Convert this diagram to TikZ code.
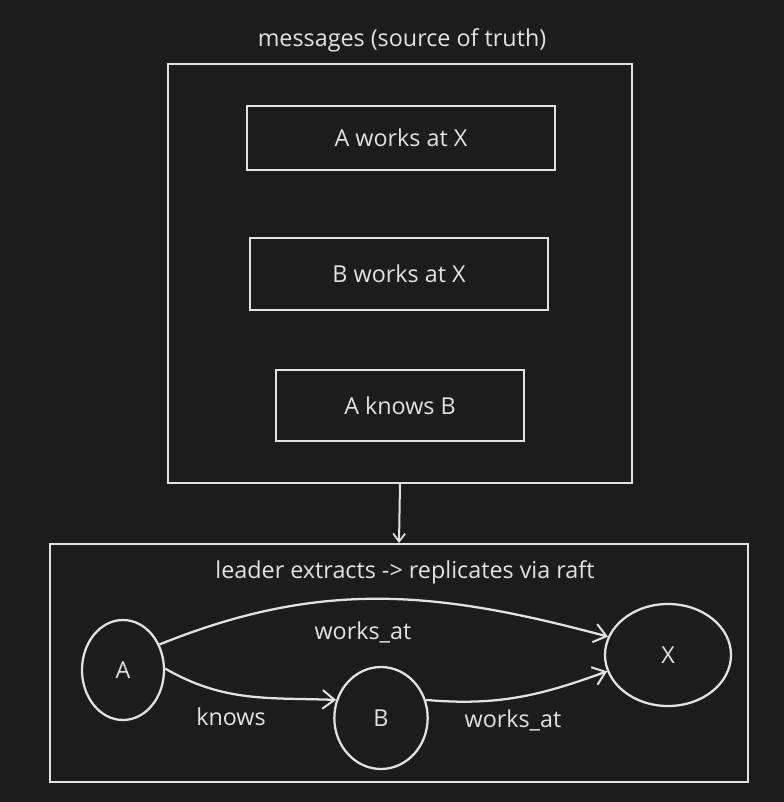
\documentclass[tikz,border=0pt]{standalone}
\usepackage{fontspec}
\setmainfont{Open Sans}
\usetikzlibrary{shapes.geometric, arrows.meta, positioning}
\definecolor{bgc}{HTML}{1C1C1C}
\definecolor{ink}{HTML}{E2E2E2}

\begin{document}
\begin{tikzpicture}[x=0.75pt, y=-0.75pt,
    every node/.style={text=ink, font=\fontsize{17.5}{20}\selectfont},
    msgbox/.style={draw=ink, line width=1.5pt, rectangle, inner sep=0pt},
    entity/.style={draw=ink, line width=1.7pt, ellipse, inner sep=0pt},
    rel/.style={draw=ink, line width=1.7pt, -{Straight Barb[length=9pt, width=14pt, line width=1.5pt]}}]
    % background and page size
    \fill[bgc] (0,0) rectangle (784,802);
    \useasboundingbox (0,0) rectangle (784,802);

    % Messages as source of truth
    \node[msgbox, minimum width=348pt, minimum height=314pt] (msgs) at (400,273.5) {};
    \node (msgtitle) at (402,40) {messages (source of truth)};
    \node[msgbox, minimum width=231pt, minimum height=48pt] (m1) at (401,138) {A works at X};
    \node[msgbox, minimum width=223.5pt, minimum height=54pt] (m2) at (399,274) {B works at X};
    \node[msgbox, minimum width=186pt, minimum height=53pt] (m3) at (400,405.5) {A knows B};

    % Leader extraction box
    \node[msgbox, minimum width=523.5pt, minimum height=178.5pt] (leader) at (399,663) {};
    \node (leadtitle) at (405,572) {leader extracts -> replicates via raft};
    \draw[ink, line width=1.5pt, -{Straight Barb[length=6pt, width=9pt, line width=1.3pt]}] (msgs.south) -- (leader.north);

    % Graph entities
    \node[entity, minimum width=61.5pt, minimum height=75pt] (A) at (123,670) {A};
    \node[entity, minimum width=70pt, minimum height=76.5pt] (B) at (381,718) {B};
    \node[entity, minimum width=94.5pt, minimum height=76.5pt] (X) at (668,655) {X};

    % Relations
    \draw[rel] (A.35) to[out=22, in=165] (X.163);
    \draw[rel] (A.2) to[out=-30, in=178] (B.158);
    \draw[rel] (B.22) to[out=-5, in=200] (X.195);
    \node (wa1) at (363,632) {works\_at};
    \node (kn) at (231,717) {knows};
    \node (wa2) at (513,720) {works\_at};
\end{tikzpicture}
\end{document}
